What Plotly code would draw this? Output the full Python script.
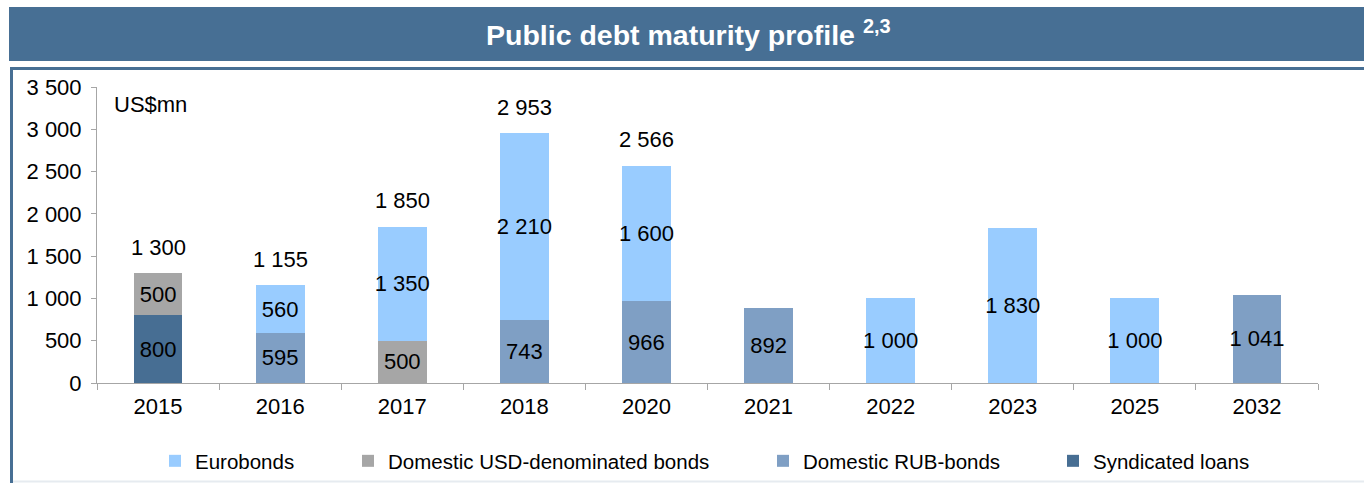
import plotly.graph_objects as go

years = ["2015", "2016", "2017", "2018", "2020", "2021", "2022", "2023", "2025", "2032"]
syndicated = [800, None, None, None, None, None, None, None, None, None]
rub_bonds = [None, 595, None, 743, 966, 892, None, None, None, 1041]
usd_bonds = [500, None, 500, None, None, None, None, None, None, None]
eurobonds = [None, 560, 1350, 2210, 1600, None, 1000, 1830, 1000, None]
total_years = ["2015", "2016", "2017", "2018", "2020"]

W, H = 1364, 483
L, R, T, B = 97, 46, 87, 100
pw, ph = W - L - R, H - T - B


def px_x(x):
    return (x - L) / pw


def px_y(y):
    return (H - B - y) / ph


FONT = "Liberation Sans, Arial, sans-serif"
C_EURO = "#99CCFF"
C_USD = "#A6A6A6"
C_RUB = "#7F9FC4"
C_SYN = "#476E93"
BANNER = "#476F94"
LBL = 22

fig = go.Figure()


def add_bar(name, vals, color, legend):
    fig.add_trace(go.Bar(
        x=years, y=vals, name=name, marker=dict(color=color, line=dict(width=0)),
        text=vals, legend=legend,
        texttemplate="%{y:,}", textposition="inside", insidetextanchor="middle",
        textangle=0,
        textfont=dict(family=FONT, size=LBL, color="black"),
        constraintext="none",
    ))


add_bar("Syndicated loans", syndicated, C_SYN, "legend4")
add_bar("Domestic RUB-bonds", rub_bonds, C_RUB, "legend3")
add_bar("Domestic USD-denominated bonds", usd_bonds, C_USD, "legend2")
add_bar("Eurobonds", eurobonds, C_EURO, "legend")

annotations = []
for y in total_years:
    i = years.index(y)
    tot = sum(v for v in (syndicated[i], rub_bonds[i], usd_bonds[i], eurobonds[i]) if v)
    annotations.append(dict(
        x=i, y=tot, xref="x", yref="y", text=f"{tot:,}".replace(",", " "),
        showarrow=False, xanchor="center", yanchor="middle", yshift=26,
        font=dict(family=FONT, size=LBL, color="black"),
    ))

annotations += [
    dict(text="<b>Public debt maturity profile <sup>2,3</sup></b>", xref="paper", yref="paper",
         x=px_x(688), y=px_y(33), showarrow=False, xanchor="center", yanchor="middle",
         font=dict(family=FONT, size=28.5, color="white")),
    dict(text="US$mn", xref="paper", yref="paper", x=px_x(112), y=px_y(104),
         showarrow=False, xanchor="left", yanchor="middle",
         font=dict(family=FONT, size=LBL, color="black")),
]

shapes = [
    dict(type="rect", xref="paper", yref="paper",
         x0=px_x(9), x1=px_x(1370), y0=px_y(61), y1=px_y(7),
         fillcolor=BANNER, line=dict(width=0), layer="below"),
    dict(type="line", xref="paper", yref="paper",
         x0=px_x(10), x1=px_x(1370), y0=px_y(68.5), y1=px_y(68.5),
         line=dict(color=BANNER, width=3)),
    dict(type="line", xref="paper", yref="paper",
         x0=px_x(11.5), x1=px_x(11.5), y0=px_y(67), y1=px_y(490),
         line=dict(color=BANNER, width=3)),
    dict(type="line", xref="paper", yref="paper",
         x0=px_x(13), x1=px_x(1370), y0=px_y(481.5), y1=px_y(481.5),
         line=dict(color="#E6EBF0", width=2)),
]


def leg(text_start_px):
    return dict(orientation="h", xref="container", yref="container",
                x=(text_start_px - 40) / W, xanchor="left",
                y=1 - 461 / H, yanchor="middle",
                font=dict(family=FONT, size=20.5, color="black"),
                itemwidth=30, bgcolor="rgba(0,0,0,0)")


fig.update_layout(
    width=W, height=H,
    margin=dict(l=L, r=R, t=T, b=B, autoexpand=False),
    barmode="stack", bargap=0.6,
    separators=". ",
    paper_bgcolor="white", plot_bgcolor="white",
    font=dict(family=FONT, size=LBL, color="black"),
    showlegend=True,
    legend=leg(195), legend2=leg(388), legend3=leg(803), legend4=leg(1093),
    shapes=shapes,
    annotations=annotations,
)

fig.update_yaxes(range=[0, 3500], dtick=500, tickformat=",", showgrid=False, zeroline=False,
                 showline=True, linecolor="#A6A6A6", linewidth=1,
                 ticks="outside", ticklen=5, tickcolor="#A6A6A6", ticklabelstandoff=5,
                 tickfont=dict(family=FONT, size=LBL, color="black"))
fig.update_xaxes(type="category", categoryorder="array", categoryarray=years,
                 range=[-0.5, len(years) - 0.5],
                 showgrid=False, showline=True, linecolor="#A6A6A6", linewidth=1,
                 ticks="outside", tickson="boundaries", ticklen=6, tickcolor="#A6A6A6",
                 ticklabelstandoff=4,
                 tickfont=dict(family=FONT, size=LBL, color="black"))

fig.write_html("out.html", config={"displayModeBar": False},
               post_script="document.body.style.margin='0px';")
